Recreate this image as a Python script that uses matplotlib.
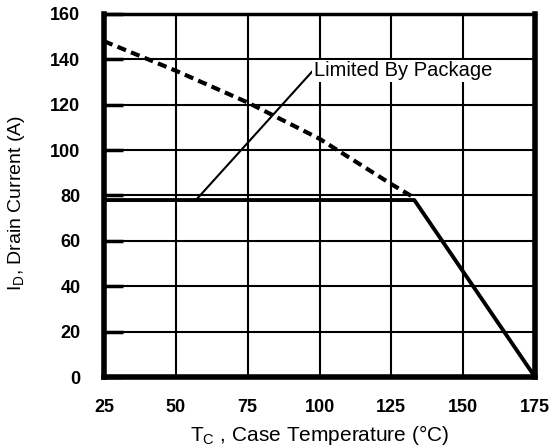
import matplotlib.pyplot as plt

plt.rcParams['font.family'] = ['Liberation Sans', 'DejaVu Sans']

# package-limited current (flat) then thermal derating to zero
temp_pkg = [25, 133, 175]
amps_pkg = [78, 78, 0]

# silicon-limited current (dashed)
temp_si = [25, 50, 75, 100, 125, 133]
amps_si = [148, 135, 121, 105, 85, 79]

xticks = [25, 50, 75, 100, 125, 150, 175]
yticks = [0, 20, 40, 60, 80, 100, 120, 140, 160]

fig = plt.figure(figsize=(5.53, 4.48), dpi=100)
ax = fig.add_axes([104/553, 1 - 377/448, 431/553, 363/448])

ax.plot(temp_si, amps_si, color='black', lw=3, ls=(0, (2.2, 1.3)), zorder=3)
ax.plot(temp_pkg, amps_pkg, color='black', lw=2.8, zorder=3)

# leader line to the label
ax.annotate('Limited By Package', xy=(57, 78), xytext=(98, 135),
            fontsize=14.5, va='center', ha='left',
            arrowprops=dict(arrowstyle='-', color='black', lw=1.5,
                            shrinkA=0, shrinkB=0,
                            relpos=(0, 0.55)),
            bbox=dict(fc='white', ec='none', pad=1), zorder=4)

ax.set_xlim(25, 175)
ax.set_ylim(0, 160)
ax.set_xticks(xticks)
ax.set_yticks(yticks)
ax.grid(True, color='black', lw=1.5)
ax.set_axisbelow(True)

ax.tick_params(axis='y', direction='in', length=14, width=2.5, pad=17,
               labelsize=13)
ax.tick_params(axis='x', length=0, pad=16, labelsize=13)
for lab in ax.get_xticklabels() + ax.get_yticklabels():
    lab.set_fontweight('bold')

ax.spines['left'].set_linewidth(4)
ax.spines['bottom'].set_linewidth(4)
ax.spines['right'].set_linewidth(4)
ax.spines['top'].set_linewidth(2.5)

ax.set_xlabel(r'T$_\mathregular{C}$ , Case Temperature (°C)', fontsize=15)
ax.set_ylabel(r'I$_\mathregular{D}$, Drain Current (A)', fontsize=14)
ax.xaxis.set_label_coords(0.5, -0.128)
ax.yaxis.set_label_coords(-0.178, 0.48)

fig.savefig('out.png', dpi=100)
